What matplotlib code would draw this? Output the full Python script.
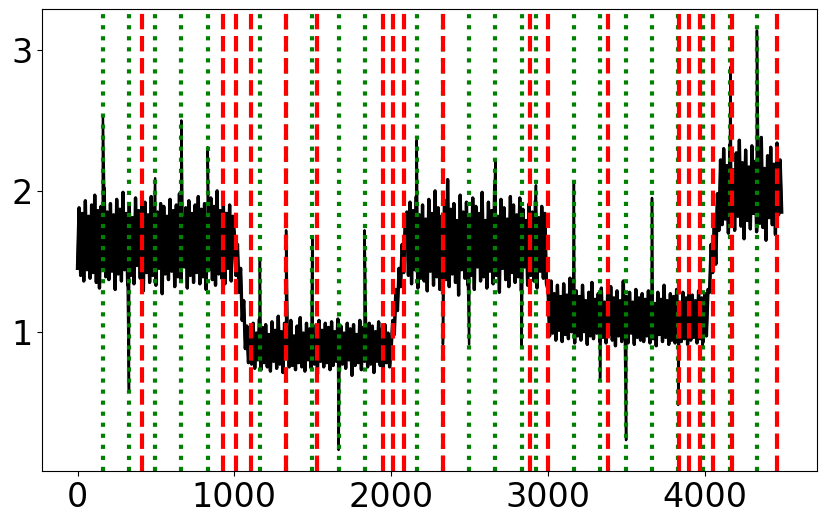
import numpy as np
import matplotlib
matplotlib.use("Agg")
import matplotlib.pyplot as plt

# signal, one value every 10 samples
level_a = [1.45, 1.88, 1.40, 1.84, 1.36, 1.93, 1.44, 1.82, 1.38, 1.90,
           1.42, 1.97, 1.35, 1.86, 1.31, 1.89, 1.46, 2.02, 1.39, 1.85,
           1.37, 1.91, 1.43, 1.83, 1.30, 1.94, 1.41, 1.87, 1.36, 1.99,
           1.44, 1.84, 1.33, 1.90, 1.40, 1.81, 1.34, 1.95, 1.47, 1.86,
           1.38, 1.89, 1.29, 1.92, 1.42, 1.83, 1.35, 1.96, 1.40, 1.88,
           1.33, 1.85, 1.45, 1.91, 1.27, 1.89, 1.41, 1.82, 1.37, 1.94,
           1.43, 1.86, 1.32, 1.90, 1.39, 1.98, 1.36, 1.81, 1.46, 1.88,
           1.31, 1.93, 1.40, 1.84, 1.35, 1.90, 1.42, 1.96, 1.34, 1.87,
           1.39, 1.91, 1.30, 1.83, 1.44, 1.95, 1.37, 1.89, 1.33, 2.00,
           1.41, 1.86, 1.38, 1.92, 1.34, 1.84, 1.45, 1.90, 1.36, 1.82]
drop_a = [1.70, 1.40, 1.62, 1.28, 1.45, 1.08, 1.22, 0.88, 1.04, 0.78]
level_b = [1.02, 0.77, 1.06, 0.74, 0.99, 0.80, 1.09, 0.73, 1.03, 0.78,
           1.05, 0.75, 0.98, 0.72, 1.07, 0.79, 1.01, 0.74, 1.11, 0.77,
           1.00, 0.71, 1.06, 0.81, 1.03, 0.75, 1.08, 0.76, 0.97, 0.73,
           1.04, 0.78, 1.10, 0.75, 0.99, 0.72, 1.06, 0.80, 1.02, 0.74,
           1.05, 0.77, 0.98, 0.70, 1.08, 0.79, 1.01, 0.75, 1.06, 0.78,
           1.03, 0.73, 1.07, 0.76, 1.00, 0.79, 1.09, 0.72, 1.04, 0.77,
           0.99, 0.74, 1.06, 0.80, 1.02, 0.69, 1.05, 0.76, 0.98, 0.78,
           1.08, 0.73, 1.03, 0.79, 1.01, 0.75, 1.06, 0.77, 1.04, 0.71,
           1.00, 0.79, 1.07, 0.76, 1.02, 0.74, 1.05, 0.78, 0.99, 0.75]
rise_b = [0.88, 1.08, 0.98, 1.30, 1.15, 1.45, 1.32, 1.62, 1.42, 1.80]
level_c = [1.85, 1.40, 1.92, 1.34, 1.86, 1.44, 1.96, 1.31, 1.83, 1.38,
           1.90, 1.36, 1.80, 1.29, 1.94, 1.43, 1.84, 1.33, 2.00, 1.39,
           1.88, 1.30, 1.82, 1.45, 1.93, 1.37, 2.08, 1.32, 1.87, 1.41,
           1.91, 1.35, 1.79, 1.26, 1.97, 1.44, 1.85, 1.38, 1.92, 1.33,
           1.81, 1.40, 1.95, 1.30, 1.89, 1.46, 1.84, 1.36, 1.99, 1.39,
           1.79, 1.31, 1.92, 1.43, 1.86, 1.34, 2.04, 1.40, 1.82, 1.28,
           1.94, 1.45, 1.88, 1.37, 1.80, 1.32, 1.96, 1.42, 1.90, 1.35,
           1.83, 1.39, 1.95, 1.29, 1.87, 1.46, 1.79, 1.33, 1.91, 1.40,
           1.85, 1.36, 1.93, 1.31, 1.81, 1.43, 1.89, 1.38, 1.84, 1.34]
level_d = [1.30, 0.97, 1.36, 0.99, 1.27, 0.94, 1.33, 1.01, 1.25, 0.93,
           1.34, 0.98, 1.26, 0.95, 1.38, 1.00, 1.23, 0.92, 1.29, 0.97,
           1.25, 0.94, 1.33, 1.00, 1.22, 0.91, 1.28, 0.97, 1.35, 0.95,
           1.23, 0.99, 1.27, 0.93, 1.31, 0.96, 1.21, 0.92, 1.26, 0.98,
           1.32, 0.94, 1.24, 0.90, 1.29, 0.97, 1.22, 0.93, 1.36, 0.95,
           1.25, 0.92, 1.28, 0.99, 1.21, 0.91, 1.30, 0.96, 1.24, 0.94,
           1.27, 0.93, 1.23, 0.97, 1.29, 0.92, 1.26, 0.95, 1.20, 0.90,
           1.28, 0.98, 1.23, 0.93, 1.33, 0.96, 1.22, 0.91, 1.27, 0.94,
           1.25, 0.92, 1.30, 0.97, 1.21, 0.93, 1.28, 0.95, 1.24, 0.91,
           1.31, 0.94, 1.26, 0.96, 1.22, 0.92, 1.29, 0.95, 1.24, 0.93,
           1.27, 0.97, 1.30]
rise_d = [1.28, 1.62, 1.42, 1.78, 1.48, 1.98, 1.72]
level_e = [2.22, 1.76, 2.30, 1.80, 2.18, 1.70, 2.33, 1.78, 2.15, 1.72,
           2.27, 1.82, 2.36, 1.75, 2.20, 1.66, 2.29, 1.79, 2.17, 1.73,
           2.32, 1.84, 2.21, 1.71, 2.28, 1.77, 2.38, 1.74, 2.16, 1.65,
           2.25, 1.81, 2.31, 1.76, 2.19, 1.69, 2.34, 1.83, 2.22, 1.85]

# outliers (same places as the green lines)
spike_x = [162, 328, 495, 662, 830, 1163, 1330, 1497, 1665, 1830, 2163, 2330,
           2497, 2665, 2832, 2923, 3165, 3332, 3498, 3663, 3830, 3985, 4163, 4332]
spike_y = [2.52, 0.59, 2.09, 2.50, 2.31, 1.51, 1.72, 1.67, 0.16, 1.72, 2.36, 0.91,
           0.91, 2.22, 0.89, 2.04, 2.06, 0.67, 0.23, 1.95, 0.48, 0.90, 2.88, 3.14]

# detected change points
red_x = [411, 929, 1012, 1108, 1332, 1530, 1945, 2009, 2079, 2332, 2886, 3001,
         3385, 3836, 3902, 3966, 4049, 4171, 4463]
green_x = spike_x

base_y = level_a + drop_a + level_b + rise_b + level_c + level_d + rise_d + level_e
base_x = np.arange(len(base_y)) * 10

x_all = np.concatenate([base_x, spike_x])
y_all = np.concatenate([base_y, spike_y])
order = np.argsort(x_all, kind="stable")

fig = plt.figure(figsize=(8.26, 5.25), dpi=100)
ax = fig.add_subplot(111)
fig.subplots_adjust(left=0.0512, right=0.989, top=0.982, bottom=0.103)

# thick pass for the dense band, thinner pass carries the outliers
ax.plot(base_x, base_y, color="black", lw=2.4)
ax.plot(x_all[order], y_all[order], color="black", lw=1.8)
for gx in green_x:
    ax.axvline(gx, color="green", linestyle=":", lw=3)
for rx in red_x:
    ax.axvline(rx, color="red", linestyle="--", lw=3)

ax.set_xticks([0, 1000, 2000, 3000, 4000])
ax.set_yticks([1, 2, 3])
ax.tick_params(labelsize=24)

plt.savefig("out.png", dpi=100)
